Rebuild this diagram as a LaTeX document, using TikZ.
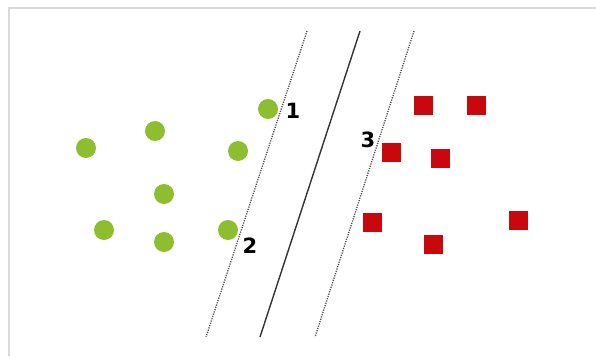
\documentclass[tikz,border=0pt]{standalone}
\usepackage{fontspec}
\setmainfont{DejaVu Sans}
\definecolor{dotgreen}{RGB}{141,190,48}
\definecolor{boxred}{RGB}{200,8,12}
\definecolor{framegray}{RGB}{218,218,218}
\tikzset{
  pt/.style={circle,fill=dotgreen,inner sep=0pt,minimum size=20pt},
  sq/.style={rectangle,fill=boxred,inner sep=0pt,minimum size=19pt},
  lab/.style={font=\fontsize{21}{21}\selectfont\bfseries,inner sep=0pt},
  margin/.style={line width=1.3pt,dash pattern=on 1.2pt off 1.2pt,black!70},
  hyper/.style={line width=1.4pt,black!80}
}
\begin{document}
\begin{tikzpicture}[x=1pt,y=-1pt]
	  \useasboundingbox (0,0) rectangle (596,356);
	  \draw[framegray,line width=1.2pt] (9,356) -- (9,8) -- (596,8);
	  % separating lines
	  \coordinate (m1a) at (307,31);
	  \coordinate (m1b) at (206,337);
	  \coordinate (ha) at (360,31);
	  \coordinate (hb) at (260,337);
	  \coordinate (m2a) at (414,31);
	  \coordinate (m2b) at (315,337);
	  \draw[margin] (m1a) -- (m1b);
	  \draw[hyper] (ha) -- (hb);
	  \draw[margin] (m2a) -- (m2b);
	  % green class
	  \node[pt] (g1) at (86,148) {};
	  \node[pt] (g2) at (155,131) {};
	  \node[pt] (g3) at (238,151) {};
	  \node[pt] (g4) at (268,109) {};
	  \node[pt] (g5) at (164,194) {};
	  \node[pt] (g6) at (104,230) {};
	  \node[pt] (g7) at (164,242) {};
	  \node[pt] (g8) at (228,230) {};
	  % red class
	  \node[sq] (r1) at (423,105) {};
	  \node[sq] (r2) at (476,105) {};
	  \node[sq] (r3) at (391,152) {};
	  \node[sq] (r4) at (440,158) {};
	  \node[sq] (r5) at (372,222) {};
	  \node[sq] (r6) at (433,244) {};
	  \node[sq] (r7) at (518,220) {};
	  % support vectors
	  \node[lab] (s1) at (293,111) {1};
	  \node[lab] (s2) at (250,246) {2};
	  \node[lab] (s3) at (368,140) {3};
\end{tikzpicture}
\end{document}
